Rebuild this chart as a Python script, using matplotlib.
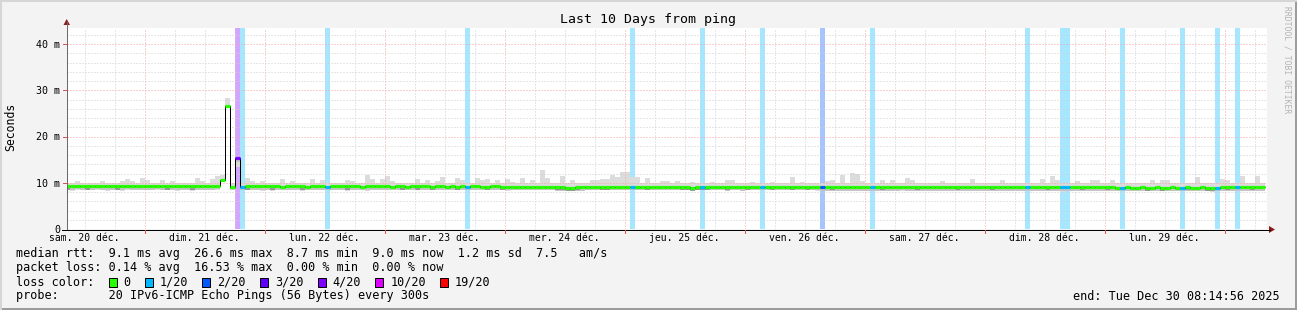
import numpy as np
import matplotlib
matplotlib.use("Agg")
import matplotlib.pyplot as plt
from matplotlib.patches import Rectangle, Polygon
from matplotlib.lines import Line2D
from matplotlib.colors import to_rgb

W, H, DPI = 1297, 310, 100

# ---------------- data ----------------
title = "Last 10 Days from ping"
day_labels = ["sam. 20 déc.", "dim. 21 déc.", "lun. 22 déc.", "mar. 23 déc.", "mer. 24 déc.",
              "jeu. 25 déc.", "ven. 26 déc.", "sam. 27 déc.", "dim. 28 déc.", "lun. 29 déc."]
ytick_vals = [0, 10, 20, 30, 40]
ytick_labels = ["0", "10 m", "20 m", "30 m", "40 m"]

# hourly median rtt (ms), 240 bins
median_ms = [
    9.2, 9.2, 9.3, 9.2, 9.2, 9.2, 9.3, 9.2, 9.2, 9.2, 9.2, 9.2, 9.3, 9.2, 9.2, 9.2, 9.2, 9.2, 9.3, 9.2,
    9.2, 9.2, 9.2, 9.2, 9.2, 9.2, 9.2, 9.2, 9.2, 9.2, 9.3, 10.7, 26.6, 9.1, 15.3, 9.1, 9.2, 9.2, 9.2, 9.2,
    9.2, 9.2, 9.2, 9.1, 9.2, 9.2, 9.2, 9.2, 9.1, 9.2, 9.2, 9.2, 9.1, 9.2, 9.2, 9.2, 9.2, 9.2, 9.2, 9.1,
    9.2, 9.2, 9.2, 9.2, 9.2, 9.1, 9.2, 9.2, 9.1, 9.2, 9.2, 9.2, 9.2, 9.1, 9.2, 9.2, 9.1, 9.2, 9.1, 9.2,
    9.1, 9.2, 9.2, 9.1, 9.1, 9.2, 9.2, 9.1, 9.1, 9.1, 9.1, 9.1, 9.1, 9.1, 9.1, 9.1, 9.1, 9.0, 9.0, 9.0,
    8.9, 8.9, 9.0, 9.0, 9.0, 9.1, 9.0, 9.0, 9.0, 9.1, 9.1, 9.1, 9.1, 9.1, 9.0, 9.0, 9.0, 9.1, 9.1, 9.1,
    9.1, 9.1, 9.0, 9.0, 9.0, 8.9, 9.0, 9.0, 9.0, 9.0, 9.1, 9.1, 9.0, 9.1, 9.1, 9.0, 9.1, 9.1, 9.1, 9.1,
    9.1, 9.0, 9.1, 9.1, 9.1, 9.0, 9.1, 9.1, 9.0, 9.1, 9.1, 9.0, 9.0, 9.0, 9.0, 9.0, 9.0, 9.0, 9.0, 9.0,
    9.0, 9.0, 9.0, 9.0, 9.0, 9.0, 9.0, 9.1, 9.0, 9.0, 9.0, 9.0, 9.0, 9.0, 9.0, 9.0, 9.0, 9.0, 9.0, 9.0,
    9.0, 9.0, 9.0, 9.0, 9.0, 9.0, 9.0, 9.0, 9.0, 9.0, 9.0, 9.0, 9.0, 9.0, 9.0, 9.0, 9.0, 9.0, 9.0, 9.0,
    9.0, 9.0, 9.0, 9.0, 9.0, 9.0, 9.0, 9.0, 9.0, 9.0, 8.9, 8.9, 9.0, 8.9, 8.9, 9.0, 8.9, 8.9, 9.0, 8.9,
    8.9, 9.0, 8.9, 8.9, 9.0, 8.9, 8.9, 9.0, 8.9, 8.9, 8.9, 9.0, 9.0, 9.0, 9.0, 9.0, 9.0, 9.0, 9.0, 9.0,
]
# hourly highest ping (top of smoke, ms)
smoke_hi_ms = [
    9.9, 9.9, 10.4, 9.9, 9.9, 9.9, 9.9, 10.4, 10.0, 9.9, 9.9, 10.4, 10.8, 10.4, 9.9, 11.0, 10.6, 9.9, 9.9, 10.6,
    9.9, 10.4, 9.9, 9.9, 9.9, 9.9, 11.0, 10.4, 9.9, 10.8, 11.5, 11.7, 28.3, 9.9, 15.6, 9.9, 11.0, 10.4, 9.9, 10.4,
    9.9, 9.9, 9.9, 10.8, 9.9, 10.4, 9.9, 9.9, 9.9, 10.8, 9.9, 10.6, 9.9, 9.9, 9.9, 9.9, 10.6, 10.4, 9.9, 9.9,
    11.7, 10.8, 9.9, 10.8, 11.5, 10.4, 9.9, 9.9, 9.9, 9.9, 10.8, 9.9, 10.6, 9.9, 10.4, 11.2, 9.9, 9.9, 11.0, 10.6,
    9.9, 9.9, 11.0, 10.6, 10.8, 9.9, 10.6, 9.9, 10.8, 10.1, 10.0, 11.0, 9.9, 10.6, 9.9, 12.8, 11.0, 9.9, 9.9, 11.5,
    9.9, 10.6, 9.9, 9.9, 9.9, 10.6, 10.6, 10.8, 10.8, 11.7, 11.2, 12.3, 12.3, 11.2, 11.2, 9.9, 11.0, 9.9, 9.9, 10.4,
    10.4, 9.9, 10.4, 9.9, 9.9, 10.1, 9.9, 9.9, 9.9, 10.1, 9.9, 9.9, 10.6, 10.6, 10.0, 9.9, 9.9, 10.1, 9.9, 9.9,
    9.9, 10.1, 9.9, 9.9, 9.9, 11.2, 9.9, 10.1, 9.9, 9.9, 9.9, 9.9, 10.3, 10.6, 9.9, 11.6, 9.9, 12.1, 12.0, 10.4,
    9.9, 9.9, 9.9, 10.5, 9.9, 10.5, 9.9, 9.9, 11.0, 10.5, 9.9, 9.9, 9.9, 9.9, 9.9, 10.3, 9.9, 9.9, 9.9, 9.9,
    9.9, 10.8, 9.9, 9.9, 9.9, 9.9, 9.9, 10.5, 9.9, 9.9, 9.9, 9.9, 9.9, 9.9, 9.9, 10.8, 9.9, 11.5, 10.5, 9.9,
    9.9, 9.9, 10.3, 9.9, 9.9, 10.5, 10.5, 9.9, 9.9, 10.5, 9.9, 9.9, 9.9, 9.9, 9.9, 9.9, 9.9, 10.6, 9.9, 10.6,
    10.5, 9.9, 9.9, 9.9, 9.9, 9.9, 11.3, 9.9, 9.9, 9.9, 9.9, 10.8, 10.6, 9.9, 9.9, 11.4, 9.9, 9.9, 11.4, 9.9,
]
# hourly lowest ping (bottom of smoke, ms)
smoke_lo_ms = [
    8.5, 8.2, 8.5, 8.5, 8.5, 8.5, 8.5, 8.5, 8.2, 8.5, 8.5, 8.2, 8.5, 8.5, 8.5, 8.5, 8.5, 8.5, 8.5, 8.5,
    8.5, 8.5, 8.2, 8.5, 8.5, 8.2, 8.5, 8.5, 8.5, 8.5, 8.5, 10.4, 26.3, 8.5, 13.5, 8.5, 8.5, 8.5, 8.5, 8.2,
    8.5, 8.2, 8.5, 8.5, 8.5, 8.5, 8.5, 8.2, 8.5, 8.5, 8.5, 8.5, 8.5, 8.5, 8.5, 8.5, 8.2, 8.5, 8.5, 8.5,
    8.2, 8.5, 8.5, 8.5, 8.5, 8.5, 8.5, 8.5, 8.5, 8.5, 8.5, 8.5, 8.5, 8.5, 8.5, 8.5, 8.5, 8.5, 8.5, 8.5,
    8.5, 8.5, 8.5, 8.5, 8.5, 8.5, 8.5, 8.5, 8.2, 8.5, 8.5, 8.5, 8.5, 8.5, 8.5, 8.5, 8.5, 8.5, 8.3, 8.3,
    8.3, 8.3, 8.3, 8.3, 8.5, 8.5, 8.5, 8.5, 8.4, 8.5, 8.5, 8.5, 8.5, 8.5, 8.5, 8.5, 8.5, 8.5, 8.5, 8.5,
    8.5, 8.5, 8.5, 8.4, 8.4, 8.4, 8.4, 8.4, 8.4, 8.5, 8.5, 8.5, 8.2, 8.5, 8.5, 8.2, 8.5, 8.5, 8.5, 8.5,
    8.5, 8.4, 8.5, 8.5, 8.5, 8.4, 8.5, 8.5, 8.4, 8.5, 8.3, 8.3, 8.3, 8.2, 8.3, 8.3, 8.2, 8.3, 8.3, 8.3,
    8.3, 8.2, 8.3, 8.2, 8.3, 8.3, 8.3, 8.3, 8.3, 8.2, 8.3, 8.3, 8.3, 8.3, 8.3, 8.3, 8.3, 8.3, 8.3, 8.3,
    8.3, 8.3, 8.3, 8.3, 8.3, 8.3, 8.3, 8.3, 8.3, 8.3, 8.3, 8.3, 8.2, 8.3, 8.3, 8.3, 8.3, 8.3, 8.3, 8.1,
    8.2, 8.3, 8.3, 8.3, 8.3, 8.2, 8.3, 8.3, 8.3, 8.3, 8.3, 8.3, 8.2, 8.3, 8.3, 8.3, 8.3, 8.3, 8.3, 8.3,
    8.3, 8.2, 8.3, 8.3, 8.3, 8.2, 8.3, 8.3, 8.3, 8.1, 8.2, 8.3, 8.3, 8.3, 8.3, 8.3, 8.2, 8.3, 8.3, 8.3,
]
# hours where a darker smoke stripe shows just under the median
dark_smoke_bins = [0, 4, 10, 20, 25, 36, 41, 47, 56, 67, 70, 73, 78, 84, 87, 98, 99, 100, 101, 102,
                   107, 108, 116, 123, 124, 125, 126, 127, 128, 132, 136, 141, 145, 148, 153, 163, 170,
                   178, 185, 196, 203, 208, 216, 219, 224, 228, 229, 232, 237]
# hours with packet loss and their loss (in twentieths)
loss_bins = [34, 35, 52, 80, 113, 127, 139, 151, 161, 192, 199, 200, 211, 223, 230, 234]
loss_twentieths = [4, 1, 1, 1, 1, 1, 1, 2, 1, 1, 1, 1, 1, 1, 1, 1]

legend_levels = ["0", "1/20", "2/20", "3/20", "4/20", "10/20", "19/20"]
legend_colors = ["#26ff00", "#00b8ff", "#0059ff", "#5e00ff", "#7e00ff", "#dd00ff", "#ff0000"]
level_of = {0: 0, 1: 1, 2: 2, 3: 3, 4: 4, 10: 5, 19: 6}

stats_rtt = "median rtt:  9.1 ms avg  26.6 ms max  8.7 ms min  9.0 ms now  1.2 ms sd  7.5   am/s"
stats_loss = "packet loss: 0.14 % avg  16.53 % max  0.00 % min  0.00 % now"
probe_txt = "probe:       20 IPv6-ICMP Echo Pings (56 Bytes) every 300s"
end_txt = "end: Tue Dec 30 08:14:56 2025"

# ---------------- layout ----------------
BG = "#f3f3f3"
MONO = "DejaVu Sans Mono"
px_x = lambda x: x / W
px_y = lambda y: 1 - y / H

fig = plt.figure(figsize=(W / DPI, H / DPI), dpi=DPI, facecolor=BG)
AX_L, AX_R, AX_T, AX_B = 67, 1267, 28, 229
ax = fig.add_axes([px_x(AX_L), px_y(AX_B), (AX_R - AX_L) / W, (AX_B - AX_T) / H])
ax.set_facecolor("white")
for s in ax.spines.values():
    s.set_visible(False)

ymax = (AX_B - AX_T) / 4.625
ax.set_xlim(0, 240)
ax.set_ylim(0, ymax)

n = len(median_ms)
edges = np.arange(n + 1) - 0.4
left = edges[:-1]
med = np.array(median_ms)
hi = np.array(smoke_hi_ms)
lo = np.array(smoke_lo_ms)

def blend(c, a=0.35):
    r, g, b = to_rgb(c)
    return (1 - a + a * r, 1 - a + a * g, 1 - a + a * b)

# loss background bands
loss = np.zeros(n, dtype=int)
for b, l in zip(loss_bins, loss_twentieths):
    loss[b] = l
for b in loss_bins:
    c = legend_colors[level_of[loss[b]]]
    ax.axvspan(left[b], left[b] + 1, color=blend(c), lw=0, zorder=1)

# smoke
ax.bar(left, hi - lo, bottom=lo, width=1.0, align="edge", color="#dcdcdc", lw=0, zorder=2)
in_lo = np.maximum(lo, med - 0.75)
in_hi = np.minimum(hi, med)
ax.bar(left, np.clip(in_hi - in_lo, 0, None), bottom=in_lo, width=1.0, align="edge",
       color="#c4c4c4", lw=0, zorder=2.1)
db = np.array(dark_smoke_bins)
ax.hlines(med[db] - 0.45, left[db], left[db] + 1, colors="#8c8c8c", lw=1.2, zorder=2.2)

# grid (rrdtool style dotted)
lw1 = 72 / DPI
midnights = np.arange(15.5, 240, 24)
sixh = np.arange(3.5, 240, 6)
minor_x = [v for v in sixh if min(abs(v - midnights)) > 0.1]
ax.vlines(minor_x, 0, ymax, colors="#cfcfcf", lw=lw1, linestyles=(0, (1, 2)), zorder=3)
ax.vlines(midnights, 0, ymax, colors="#f4a3a3", lw=lw1, linestyles=(0, (1, 2)), zorder=3)
minor_y = [v for v in np.arange(2, ymax, 2) if v % 10 != 0]
ax.hlines(minor_y, 0, 240, colors="#cfcfcf", lw=lw1, linestyles=(0, (1, 2)), zorder=3)
ax.hlines([10, 20, 30, 40], 0, 240, colors="#f4a3a3", lw=lw1, linestyles=(0, (1, 2)), zorder=3)

# median: thin black step line, then loss-coloured thick segments
ax.stairs(med, edges, baseline=None, color="black", lw=lw1, zorder=4)
seg_colors = [legend_colors[level_of[l]] for l in loss]
ax.hlines(med, left, left + 1, colors=seg_colors, lw=3.2 * lw1, zorder=5)

# ticks / labels
ax.set_xticks(np.arange(3.5, 240, 24)[:len(day_labels)])
ax.set_xticklabels(day_labels, fontfamily=MONO, fontsize=7)
for t in ax.get_xticklabels():
    t.set_verticalalignment("baseline")
ax.set_yticks(ytick_vals)
ax.set_yticklabels(ytick_labels, fontfamily=MONO, fontsize=7.2)
ax.tick_params(axis="x", length=0, pad=8.7)
ax.tick_params(axis="y", length=0, pad=5)
for t in ax.get_yticklabels():
    if t.get_text() == "0":
        t.set_verticalalignment("center_baseline")

# axes lines and arrows
fig.add_artist(Line2D([px_x(66.5), px_x(66.5)], [px_y(AX_B), px_y(22)], color="#6a6a6a", lw=lw1))
fig.add_artist(Line2D([px_x(62), px_x(1270)], [px_y(229.5), px_y(229.5)], color="black", lw=lw1))
for xm in midnights:
    xp = AX_L + xm * 5
    fig.add_artist(Line2D([px_x(xp), px_x(xp)], [px_y(230), px_y(233)], color="#e05050", lw=lw1))
for yv in [10, 20, 30, 40]:
    yp = AX_B - yv * 4.625
    fig.add_artist(Line2D([px_x(63), px_x(66)], [px_y(yp), px_y(yp)], color="#e05050", lw=lw1))
fig.add_artist(Polygon([[px_x(63.5), px_y(25)], [px_x(70), px_y(25)], [px_x(66.7), px_y(19)]],
                       closed=True, color="#8b1a1a", lw=0))
fig.add_artist(Polygon([[px_x(1269), px_y(226)], [px_x(1269), px_y(233)], [px_x(1275), px_y(229.5)]],
                       closed=True, color="#8b1a1a", lw=0))

# frame
fig.add_artist(Rectangle((0, 0), 1, 2 / H, transform=fig.transFigure, color="#9c9c9c", lw=0))
fig.add_artist(Rectangle((1 - 2 / W, 0), 2 / W, 1, transform=fig.transFigure, color="#9c9c9c", lw=0))
fig.add_artist(Rectangle((0, 1 - 2 / H), 1, 2 / H, transform=fig.transFigure, color="#d6d6d6", lw=0))
fig.add_artist(Rectangle((0, 0), 2 / W, 1, transform=fig.transFigure, color="#d6d6d6", lw=0))

# texts
fig.text(px_x(648), px_y(19), title, fontfamily=MONO, fontsize=9.5, ha="center", va="center")
fig.text(px_x(11), px_y(127), "Seconds", fontfamily=MONO, fontsize=8.3, rotation=90,
         ha="center", va="center")
fig.text(px_x(1287), px_y(60), "RRDTOOL / TOBI OETIKER", fontfamily=MONO, fontsize=5.8,
         rotation=270, ha="center", va="center", color="#b4b4b4")

LS = 8.5
fig.text(px_x(16), px_y(254), stats_rtt, fontfamily=MONO, fontsize=LS, ha="left", va="center")
fig.text(px_x(16), px_y(268), stats_loss, fontfamily=MONO, fontsize=LS, ha="left", va="center")
fig.text(px_x(16), px_y(282), "loss color:", fontfamily=MONO, fontsize=LS, ha="left", va="center")
fig.text(px_x(16), px_y(296), probe_txt, fontfamily=MONO, fontsize=LS, ha="left", va="center")
fig.text(px_x(1280), px_y(296), end_txt, fontfamily=MONO, fontsize=LS, ha="right", va="center")

cw = 0.602 * LS * DPI / 72
xb = 108.5
for lab, col in zip(legend_levels, legend_colors):
    fig.add_artist(Rectangle((px_x(xb), px_y(286.5)), 8 / W, 9 / H, transform=fig.transFigure,
                             facecolor=col, edgecolor="black", lw=lw1))
    fig.text(px_x(xb + 15), px_y(282), lab, fontfamily=MONO, fontsize=LS, ha="left", va="center")
    xb = xb + 15 + cw * (len(lab) + 2)

fig.savefig("out.png", dpi=DPI, facecolor=BG)
